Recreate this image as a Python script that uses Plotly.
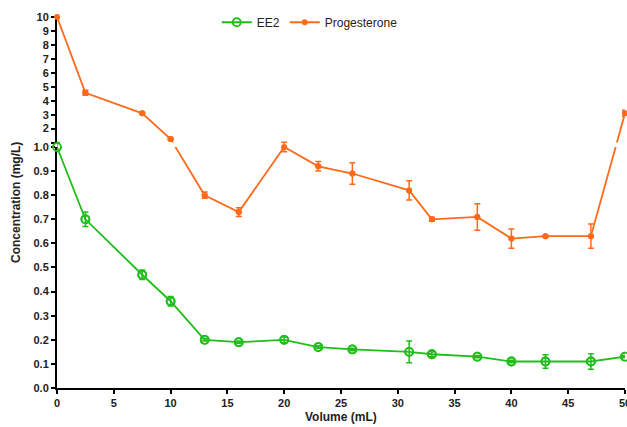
import plotly.graph_objects as go

volume = [0, 2.5, 7.5, 10, 13, 16, 20, 23, 26, 31, 33, 37, 40, 43, 47, 50]
ee2 = [1.0, 0.70, 0.47, 0.36, 0.20, 0.19, 0.20, 0.17, 0.16, 0.15, 0.14, 0.13, 0.11, 0.11, 0.11, 0.13]
ee2_err = [0.005, 0.03, 0.02, 0.02, 0.005, 0.005, 0.012, 0.005, 0.005, 0.045, 0.01, 0.005, 0.005, 0.028, 0.032, 0.005]
prog = [10.0, 4.57, 3.1, 1.25, 0.80, 0.73, 1.00, 0.92, 0.89, 0.82, 0.70, 0.71, 0.62, 0.63, 0.63, 3.1]
prog_err = [0.05, 0.18, 0.05, 0.05, 0.013, 0.018, 0.025, 0.02, 0.045, 0.04, 0.008, 0.055, 0.04, 0.004, 0.05, 0.22]

y_ticks_low = [round(i * 0.1, 1) for i in range(11)]
y_ticks_high = [1, 2, 3, 4, 5, 6, 7, 8, 9, 10]
y_ticktext_high = [""] + [str(v) for v in y_ticks_high[1:]]
x_ticks = list(range(0, 51, 5))

GREEN = "#1fbe1a"
ORANGE = "#ff6a1a"
FONT = "Liberation Sans, Arial, sans-serif"

# broken-axis geometry (fractions of plot height)
LOW_TOP = 0.6496      # top of lower segment (value 1.0)
UP_BOT = 0.6615       # bottom of upper segment (value 1)
HIGH_MIN, HIGH_MAX = 1.0, 10.0
D_MAX = 1.0 / LOW_TOP  # display range in lower-axis units


def to_display(v):
    """Map a concentration onto the combined broken-axis display scale."""
    if v <= 1.0:
        return v
    return (UP_BOT + (v - HIGH_MIN) / (HIGH_MAX - HIGH_MIN) * (1 - UP_BOT)) / LOW_TOP


def err_display(vals, errs):
    return [to_display(v + e) - to_display(v) for v, e in zip(vals, errs)]


prog_d = [to_display(v) for v in prog]
prog_err_d = err_display(prog, prog_err)
ee2_d = [to_display(v) for v in ee2]
ee2_err_d = err_display(ee2, ee2_err)
gap_lo, gap_hi = 1.0, UP_BOT / LOW_TOP

fig = go.Figure()

# empty traces so the two visible y-axis segments get drawn
fig.add_trace(go.Scatter(x=[], y=[], xaxis="x", yaxis="y", showlegend=False, hoverinfo="skip"))
fig.add_trace(go.Scatter(x=[], y=[], xaxis="x", yaxis="y2", showlegend=False, hoverinfo="skip"))

# lines (below the gap mask)
fig.add_trace(go.Scatter(
    x=volume, y=ee2_d, name="EE2", mode="lines+markers",
    line=dict(color=GREEN, width=1.8),
    marker=dict(symbol="circle-open", size=8, color=GREEN, line=dict(width=1.8, color=GREEN)),
    xaxis="x", yaxis="y3", hoverinfo="skip"))
fig.add_trace(go.Scatter(
    x=volume, y=prog_d, name="Progesterone", mode="lines+markers",
    line=dict(color=ORANGE, width=1.8),
    marker=dict(symbol="circle", size=6, color=ORANGE),
    xaxis="x", yaxis="y3", hoverinfo="skip"))

# white mask over the axis break
fig.add_trace(go.Scatter(
    x=[min(volume), max(volume), max(volume), min(volume), min(volume)],
    y=[gap_lo, gap_lo, gap_hi, gap_hi, gap_lo],
    mode="lines", fill="toself", fillcolor="white", line=dict(width=0, color="white"),
    showlegend=False, hoverinfo="skip", xaxis="x", yaxis="y3"))

# markers + error bars on top
fig.add_trace(go.Scatter(
    x=volume, y=prog_d, mode="markers", showlegend=False,
    marker=dict(symbol="circle", size=6, color=ORANGE),
    error_y=dict(type="data", array=prog_err_d, color=ORANGE, thickness=1.5, width=3),
    cliponaxis=False, xaxis="x", yaxis="y3"))
fig.add_trace(go.Scatter(
    x=volume, y=ee2_d, mode="markers", showlegend=False,
    marker=dict(symbol="circle-open", size=8, color=GREEN, line=dict(width=1.8, color=GREEN)),
    error_y=dict(type="data", array=ee2_err_d, color=GREEN, thickness=1.5, width=3),
    cliponaxis=False, xaxis="x", yaxis="y3"))

axis_common = dict(
    showgrid=False, zeroline=False, showline=True, linecolor="black", linewidth=2,
    ticks="outside", ticklen=4, tickwidth=2, tickcolor="black",
    ticklabeloverflow="allow", automargin=False,
    tickfont=dict(family=FONT, size=11, color="#222", weight="bold"),
)

fig.update_layout(
    width=627, height=427,
    margin=dict(l=57, r=2, t=17, b=39),
    paper_bgcolor="white", plot_bgcolor="white",
    font=dict(family=FONT, color="#222"),
    xaxis=dict(range=[0, 50], tickvals=x_ticks, anchor="y", **axis_common),
    yaxis=dict(range=[0, 1.0], domain=[0, LOW_TOP], tickvals=y_ticks_low,
               tickformat=".1f", anchor="x", **axis_common),
    yaxis2=dict(range=[HIGH_MIN, HIGH_MAX], domain=[UP_BOT, 1.0], tickvals=y_ticks_high,
                ticktext=y_ticktext_high, anchor="x", **axis_common),
    yaxis3=dict(range=[0, D_MAX], domain=[0, 1.0], anchor="x", visible=False,
                showgrid=False, zeroline=False),
    legend=dict(orientation="h", x=0.445, xanchor="center", y=1.025, yanchor="top",
                itemwidth=30,
                font=dict(family=FONT, size=12, color="#222"), bgcolor="rgba(0,0,0,0)"),
    annotations=[
        dict(text="Concentration (mg/L)", xref="paper", yref="paper", x=-0.073, y=0.5,
             xanchor="center", yanchor="middle", textangle=-90, showarrow=False,
             font=dict(family=FONT, size=12, color="#222", weight="bold")),
        dict(text="Volume (mL)", xref="paper", yref="paper", x=0.5, y=-0.079,
             xanchor="center", yanchor="middle", showarrow=False,
             font=dict(family=FONT, size=12, color="#222", weight="bold")),
    ],
)

fig.write_html("out.html", config={"displayModeBar": False},
               post_script="document.body.style.margin='0';")
